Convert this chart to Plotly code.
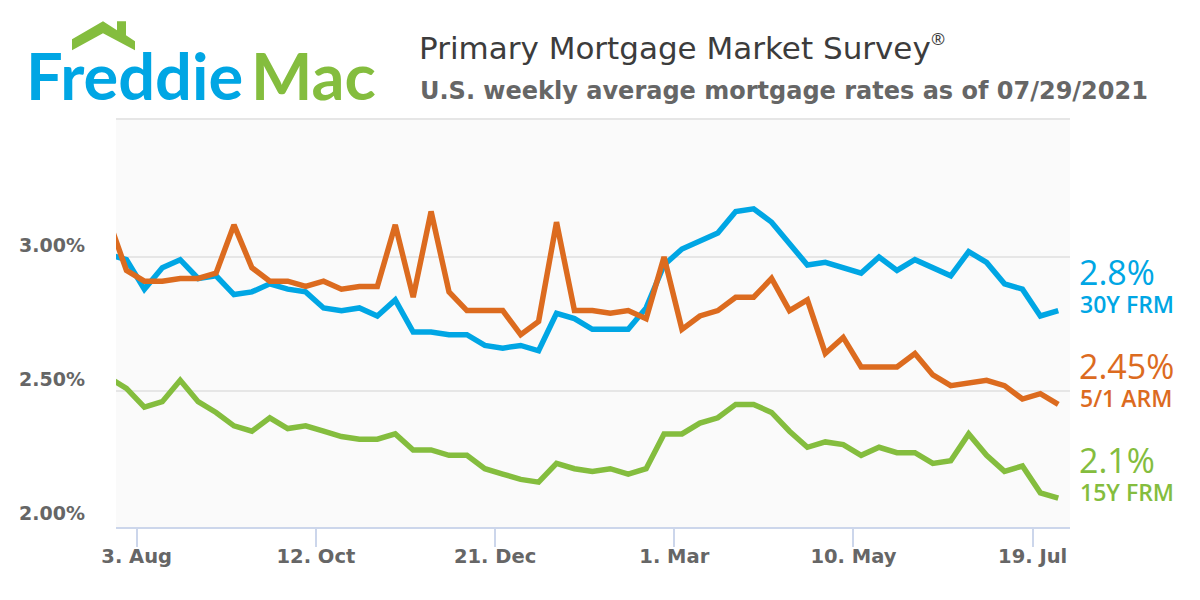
import plotly.graph_objects as go
import pandas as pd

dates = pd.date_range("2020-07-23", periods=54, freq="7D")

frm30 = [3.01, 2.99, 2.88, 2.96, 2.99, 2.92, 2.93, 2.86, 2.87, 2.90,
         2.88, 2.87, 2.81, 2.80, 2.81, 2.78, 2.84, 2.72, 2.72, 2.71,
         2.71, 2.67, 2.66, 2.67, 2.65, 2.79, 2.77, 2.73, 2.73, 2.73,
         2.81, 2.97, 3.03, 3.06, 3.09, 3.17, 3.18, 3.13, 3.05, 2.97,
         2.98, 2.96, 2.94, 3.00, 2.95, 2.99, 2.96, 2.93, 3.02, 2.98,
         2.90, 2.88, 2.78, 2.80]
arm51 = [3.14, 2.95, 2.91, 2.91, 2.92, 2.92, 2.94, 3.12, 2.96, 2.91,
         2.91, 2.89, 2.91, 2.88, 2.89, 2.89, 3.12, 2.85, 3.17, 2.87,
         2.80, 2.80, 2.80, 2.71, 2.76, 3.13, 2.80, 2.80, 2.79, 2.80,
         2.77, 3.00, 2.73, 2.78, 2.80, 2.85, 2.85, 2.92, 2.80, 2.84,
         2.64, 2.70, 2.59, 2.59, 2.59, 2.64, 2.56, 2.52, 2.53, 2.54,
         2.52, 2.47, 2.49, 2.45]
frm15 = [2.55, 2.51, 2.44, 2.46, 2.54, 2.46, 2.42, 2.37, 2.35, 2.40,
         2.36, 2.37, 2.35, 2.33, 2.32, 2.32, 2.34, 2.28, 2.28, 2.26,
         2.26, 2.21, 2.19, 2.17, 2.16, 2.23, 2.21, 2.20, 2.21, 2.19,
         2.21, 2.34, 2.34, 2.38, 2.40, 2.45, 2.45, 2.42, 2.35, 2.29,
         2.31, 2.30, 2.26, 2.29, 2.27, 2.27, 2.23, 2.24, 2.34, 2.26,
         2.20, 2.22, 2.12, 2.10]

tick_dates = ["2020-08-03", "2020-10-12", "2020-12-21", "2021-03-01", "2021-05-10", "2021-07-19"]
tick_labels = ["3. Aug", "12. Oct", "21. Dec", "1. Mar", "10. May", "19. Jul"]
y_ticks = [2.0, 2.5, 3.0]
y_labels = ["2.00%", "2.50%", "3.00%"]

series_names = ["30Y FRM", "5/1 ARM", "15Y FRM"]
latest = ["2.8%", "2.45%", "2.1%"]

BLUE = "#00a6e4"
ORANGE = "#dc6b1f"
GREEN = "#84bd3e"
GREY = "#666666"

L, T, R, B = 116, 118.7, 1070, 526.7


def px(x):
    return (x - L) / (R - L)


def py(y):
    return (B - y) / (B - T)


def note(text, x, y, size, color, family="Open Sans", weight="normal"):
    return dict(text=text, xref="paper", yref="paper", x=px(x), y=py(y), xanchor="left",
                yanchor="middle", showarrow=False, borderpad=0,
                font=dict(size=size, color=color, family=family, weight=weight))


fig = go.Figure()
for vals, name, col in zip([frm15, frm30, arm51], ["15Y FRM", "30Y FRM", "5/1 ARM"], [GREEN, BLUE, ORANGE]):
    fig.add_trace(go.Scatter(x=dates, y=vals, mode="lines", name=name,
                             line=dict(color=col, width=5.5)))

anns = [
    note("Primary Mortgage Market Survey", 418, 48, 31, "#3c3c3c", "DejaVu Sans"),
    note("®", 930, 38, 17, "#3c3c3c"),
    note("U.S. weekly average mortgage rates as of 07/29/2021", 419, 91, 24, GREY, "DejaVu Sans", "bold"),
    note("Freddie", 25, 75, 65, BLUE, "Lato", "bold"),
    note("Mac", 250, 75, 65, GREEN, "Lato", "bold"),
]
for v, lab in zip(y_ticks, y_labels):
    anns.append(dict(text=lab, xref="paper", yref="y", x=px(86), y=v, yshift=12,
                     xanchor="right", yanchor="middle", showarrow=False, borderpad=0,
                     font=dict(size=19, color=GREY, family="DejaVu Sans", weight="bold")))
for name, val, col, yv, yn in zip(series_names, latest, [BLUE, ORANGE, GREEN],
                                  [272, 366, 460], [304, 398, 492]):
    anns.append(note(val, 1078, yv, 34, col))
    anns.append(note(name, 1079, yn, 23, col, weight=600))

roof = "M %f %f" % (px(72), py(39))
for x, y in [(103, 21), (117, 30), (117, 21), (126, 21), (126, 35), (135, 41), (135, 50), (103, 33), (72, 50)]:
    roof += " L %f %f" % (px(x), py(y))
roof += " Z"

fig.update_layout(
    width=1200, height=600,
    margin=dict(l=L, r=1200 - R, t=T, b=600 - B),
    paper_bgcolor="white", plot_bgcolor="#fafafa",
    showlegend=False,
    annotations=anns,
    shapes=[
        dict(type="path", path=roof, xref="paper", yref="paper", fillcolor=GREEN, line=dict(width=0)),
        dict(type="line", xref="paper", yref="paper", x0=0, x1=1, y0=1, y1=1,
             line=dict(color="#e6e6e6", width=2)),
    ],
    xaxis=dict(range=["2020-07-25 22:00", "2021-08-02 14:00"], tickvals=tick_dates, ticktext=tick_labels,
               ticks="outside", ticklen=18, tickwidth=2, tickcolor="#ccd6eb", ticklabelstandoff=-7,
               showgrid=False, zeroline=False, showline=True, linecolor="#ccd6eb", linewidth=2,
               tickfont=dict(size=19.5, color=GREY, family="DejaVu Sans", weight="bold")),
    yaxis=dict(range=[1.9925, 3.515], tickvals=y_ticks[1:], showticklabels=False,
               showgrid=True, gridcolor="#e6e6e6", gridwidth=2, zeroline=False),
)

# page body has a default margin, drop it so the figure sits at 0,0
fig.write_html("out.html", config={"displayModeBar": False},
               post_script="document.body.style.margin='0';")
